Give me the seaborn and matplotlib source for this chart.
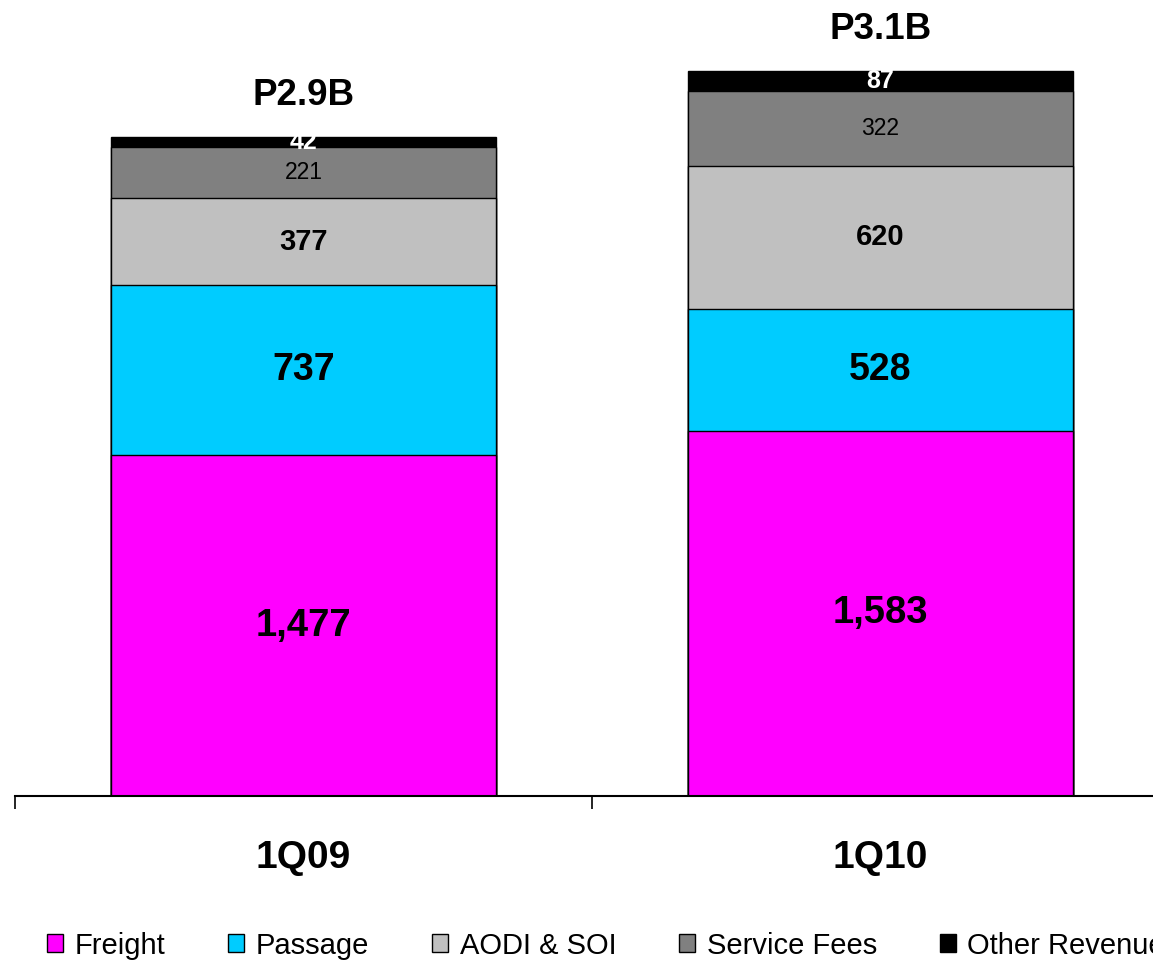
import numpy as np
import pandas as pd
import matplotlib.pyplot as plt
import seaborn as sns
from matplotlib.patches import Patch

quarters = ['1Q09', '1Q10']
freight = [1477, 1583]
passage = [737, 528]
aodi_soi = [377, 620]
service_fees = [221, 322]
other_rev = [42, 87]
totals_txt = ['P2.9B', 'P3.1B']

series = ['Freight', 'Passage', 'AODI & SOI', 'Service Fees', 'Other Revenue']
values = [freight, passage, aodi_soi, service_fees, other_rev]
colors = ['#FF00FF', '#00CCFF', '#C0C0C0', '#808080', '#000000']
# label style per series: (fontsize, weight, color)
lab_style = [(27.5, 'bold', 'black'), (27, 'bold', 'black'), (21, 'bold', 'black'),
             (16.5, 'normal', 'black'), (18, 'bold', 'white')]

sns.set_style('white')
plt.rcParams['font.family'] = ['Liberation Sans', 'DejaVu Sans']
plt.rcParams['text.color'] = 'black'
plt.rcParams['xtick.color'] = 'black'
plt.rcParams['axes.edgecolor'] = 'black'

vals = np.array(values, dtype=float)
cum = np.cumsum(vals, axis=0)
rows = []
for i, s in enumerate(series):
    for j, q in enumerate(quarters):
        rows.append({'series': s, 'quarter': q, 'value': vals[i, j],
                     'top': cum[i, j], 'base': cum[i, j] - vals[i, j]})
df = pd.DataFrame(rows)

fig = plt.figure(figsize=(11.53, 9.64), dpi=100)
ax = fig.add_axes([15 / 1153, 168 / 964, 1154 / 1153, 796 / 964])

# stacked by overdrawing cumulative bars, tallest first
for i in reversed(range(len(series))):
    sub = df[df['series'] == series[i]]
    sns.barplot(data=sub, x='quarter', y='top', order=quarters, color=colors[i],
                saturation=1, width=0.667, edgecolor='black', linewidth=1.0, ax=ax)

for i, s in enumerate(series):
    fs, fw, fc = lab_style[i]
    sub = df[df['series'] == s]
    for j, r in enumerate(sub.itertuples()):
        ax.text(j, (r.base + r.top) / 2, f'{int(r.value):,}', ha='center', va='center',
                fontsize=fs, fontweight=fw, color=fc)

for j, q in enumerate(quarters):
    ax.annotate(totals_txt[j], (j, cum[-1, j]), xytext=(0, 30), textcoords='offset points',
                ha='center', va='center', fontsize=26.5, fontweight='bold', color='black')

ax.set_xlim(-0.5, 1.5)
ax.set_ylim(0, 796 / 0.2308)
ax.set_xlabel('')
ax.set_ylabel('')
ax.set_yticks([])
for sp in ['top', 'right', 'left']:
    ax.spines[sp].set_visible(False)
ax.spines['bottom'].set_linewidth(1.5)
ax.set_xticks([-0.5, 0.5, 1.5])
ax.set_xticklabels([])
ax.tick_params(axis='x', which='major', direction='out', length=9, width=1.2, bottom=True,
               color='black')
ax.set_xticks([0, 1], minor=True)
ax.set_xticklabels(quarters, minor=True, fontsize=28, fontweight='bold', color='black')
ax.tick_params(axis='x', which='minor', length=0, pad=32)

handles = [Patch(facecolor=c, edgecolor='black', linewidth=1.0) for c in colors]
fig.legend(handles, series, loc='center left', bbox_to_anchor=(47 / 1153, 18.5 / 964),
           ncol=5, frameon=False, fontsize=21, handlelength=0.55, handleheight=0.55,
           handletextpad=0.4, columnspacing=2.15, borderaxespad=0, borderpad=0)

fig.savefig('out.png', dpi=100)
